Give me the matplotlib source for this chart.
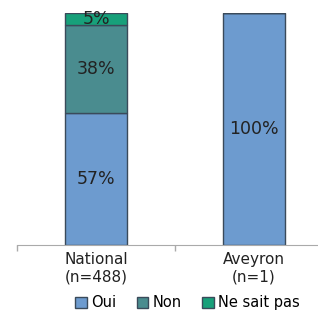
import matplotlib.pyplot as plt

categories = ["National\n(n=488)", "Aveyron\n(n=1)"]
oui = [57, 100]
non = [38, 0]
nsp = [5, 0]
series_names = ["Oui", "Non", "Ne sait pas"]
colors = ["#6D9BCF", "#4A8C8F", "#17A07A"]

plt.rc('font', family='DejaVu Sans')

fig = plt.figure(figsize=(3.18, 3.13), dpi=100)
ax = fig.add_axes([17 / 318, (313 - 245) / 313, 1 - 17 / 318, (245 - 13) / 313])

x = list(range(len(categories)))
bottom = [0] * len(categories)
for name, vals, col in zip(series_names, [oui, non, nsp], colors):
    bars = ax.bar(x, vals, 0.39, bottom=bottom, color=col, edgecolor="#3a4a5a",
                  linewidth=1.0, label=name)
    for xi, v, b in zip(x, vals, bottom):
        if v > 0:
            ax.text(xi, b + v / 2, f"{v}%", ha="center", va="center",
                    fontsize=12.5, color="#222222")
    bottom = [b + v for b, v in zip(bottom, vals)]

ax.set_xlim(-0.5, 1.405)
ax.set_ylim(0, 100)
ax.set_yticks([])
ax.set_xticks([-0.5, 0.5], minor=False)
ax.set_xticklabels([])
ax.tick_params(axis="x", length=4, color="#aaaaaa", width=1)
ax.set_xticks(x, minor=True)
ax.set_xticklabels(categories, minor=True, fontsize=11, color="#222222")
ax.tick_params(axis="x", which="minor", length=0, pad=5)
for s in ["top", "right", "left"]:
    ax.spines[s].set_visible(False)
ax.spines["bottom"].set_color("#aaaaaa")

handles, labels = ax.get_legend_handles_labels()
fig.legend(handles, labels, loc="center", bbox_to_anchor=(0.59, 0.032), ncol=3,
           frameon=False, fontsize=10.5, handlelength=0.8, handleheight=0.8,
           handletextpad=0.3, columnspacing=1.4)

fig.savefig("out.png", dpi=100)
